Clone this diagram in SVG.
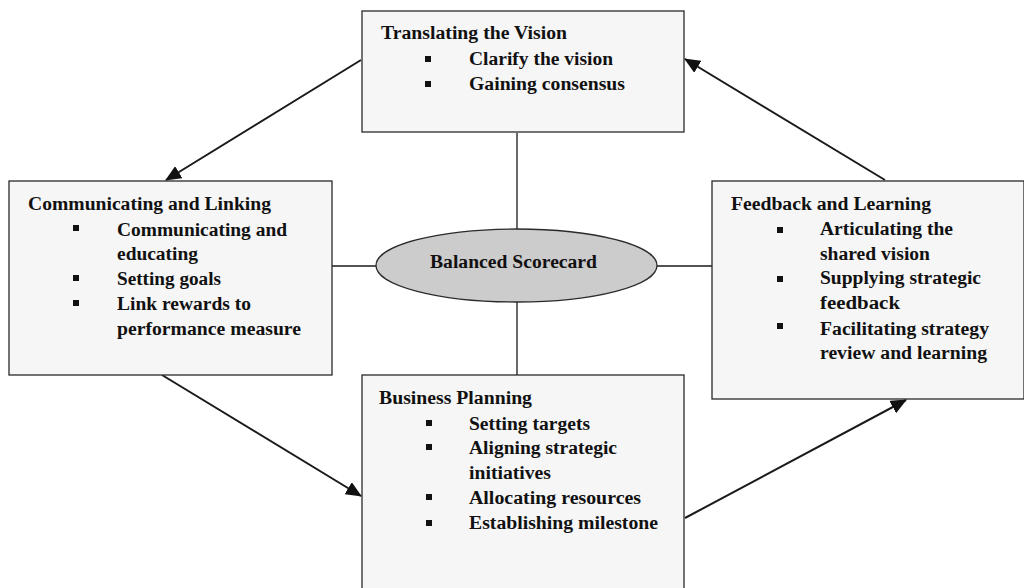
<svg xmlns="http://www.w3.org/2000/svg" width="1024" height="588" viewBox="0 0 1024 588">
  <defs>
    <style>
      .box { fill: #f6f6f6; stroke: #2a2a2a; stroke-width: 1.3; }
      .hub { fill: #cccccc; stroke: #2a2a2a; stroke-width: 1.3; }
      .link { stroke: #1a1a1a; stroke-width: 1.3; fill: none; }
      .arrow { stroke: #1a1a1a; stroke-width: 2; fill: none; marker-end: url(#head); }
      text { font-family: "Liberation Serif", "Times New Roman", serif; font-weight: bold; font-size: 18.5px; fill: #111; }
      .dot { fill: #111; }
    </style>
    <marker id="head" markerUnits="userSpaceOnUse" markerWidth="16" markerHeight="14" refX="15" refY="7" orient="auto">
      <path d="M0,0 L16,7 L0,14 Z" fill="#111"/>
    </marker>
  </defs>

  <!-- connectors -->
  <g id="connectors">
    <line class="link" x1="517" y1="133" x2="517" y2="229"/>
    <line class="link" x1="517" y1="302" x2="517" y2="375"/>
    <line class="link" x1="332" y1="266" x2="376" y2="266"/>
    <line class="link" x1="657" y1="266" x2="712" y2="266"/>
    <line class="arrow" x1="361" y1="60" x2="166" y2="180"/>
    <line class="arrow" x1="162" y1="375" x2="361" y2="496"/>
    <line class="arrow" x1="685" y1="518" x2="906" y2="400"/>
    <line class="arrow" x1="885" y1="180" x2="685" y2="59"/>
  </g>

  <!-- Translating the Vision -->
  <g id="translating">
    <rect class="box" x="362" y="11" width="322" height="121"/>
    <text x="381" y="39" textLength="186" lengthAdjust="spacingAndGlyphs">Translating the Vision</text>
    <rect class="dot" x="425" y="56" width="6" height="6"/>
    <text x="469" y="65" textLength="144" lengthAdjust="spacingAndGlyphs">Clarify the vision</text>
    <rect class="dot" x="425" y="81" width="6" height="6"/>
    <text x="469" y="90" textLength="156" lengthAdjust="spacingAndGlyphs">Gaining consensus</text>
  </g>

  <!-- Communicating and Linking -->
  <g id="communicating">
    <rect class="box" x="9" y="181" width="323" height="194"/>
    <text x="28" y="210" textLength="243" lengthAdjust="spacingAndGlyphs">Communicating and Linking</text>
    <rect class="dot" x="73" y="225" width="6" height="6"/>
    <text x="117" y="236" textLength="170" lengthAdjust="spacingAndGlyphs">Communicating and</text>
    <text x="117" y="260" textLength="81" lengthAdjust="spacingAndGlyphs">educating</text>
    <rect class="dot" x="73" y="275" width="6" height="6"/>
    <text x="117" y="285" textLength="104" lengthAdjust="spacingAndGlyphs">Setting goals</text>
    <rect class="dot" x="73" y="300" width="6" height="6"/>
    <text x="117" y="310" textLength="134" lengthAdjust="spacingAndGlyphs">Link rewards to</text>
    <text x="117" y="335" textLength="184" lengthAdjust="spacingAndGlyphs">performance measure</text>
  </g>

  <!-- Balanced Scorecard -->
  <g id="scorecard">
    <ellipse class="hub" cx="516.5" cy="265.5" rx="140.5" ry="36.5"/>
    <text x="430" y="268" textLength="167" lengthAdjust="spacingAndGlyphs">Balanced Scorecard</text>
  </g>

  <!-- Feedback and Learning -->
  <g id="feedback">
    <rect class="box" x="712" y="181" width="312" height="218"/>
    <text x="731" y="210" textLength="200" lengthAdjust="spacingAndGlyphs">Feedback and Learning</text>
    <rect class="dot" x="777" y="227" width="6" height="6"/>
    <text x="820" y="235" textLength="133" lengthAdjust="spacingAndGlyphs">Articulating the</text>
    <text x="820" y="260" textLength="110" lengthAdjust="spacingAndGlyphs">shared vision</text>
    <rect class="dot" x="777" y="276" width="6" height="6"/>
    <text x="820" y="284" textLength="161" lengthAdjust="spacingAndGlyphs">Supplying strategic</text>
    <text x="820" y="309" textLength="80" lengthAdjust="spacingAndGlyphs">feedback</text>
    <rect class="dot" x="777" y="323" width="6" height="6"/>
    <text x="820" y="335" textLength="169" lengthAdjust="spacingAndGlyphs">Facilitating strategy</text>
    <text x="820" y="359" textLength="167" lengthAdjust="spacingAndGlyphs">review and learning</text>
  </g>

  <!-- Business Planning -->
  <g id="planning">
    <rect class="box" x="362" y="375" width="322" height="230"/>
    <text x="379" y="404" textLength="153" lengthAdjust="spacingAndGlyphs">Business Planning</text>
    <rect class="dot" x="426" y="420" width="6" height="6"/>
    <text x="469" y="430" textLength="121" lengthAdjust="spacingAndGlyphs">Setting targets</text>
    <rect class="dot" x="426" y="444" width="6" height="6"/>
    <text x="469" y="454" textLength="148" lengthAdjust="spacingAndGlyphs">Aligning strategic</text>
    <text x="469" y="479" textLength="82" lengthAdjust="spacingAndGlyphs">initiatives</text>
    <rect class="dot" x="426" y="494" width="6" height="6"/>
    <text x="469" y="504" textLength="172" lengthAdjust="spacingAndGlyphs">Allocating resources</text>
    <rect class="dot" x="426" y="520" width="6" height="6"/>
    <text x="469" y="529" textLength="189" lengthAdjust="spacingAndGlyphs">Establishing milestone</text>
  </g>
</svg>
